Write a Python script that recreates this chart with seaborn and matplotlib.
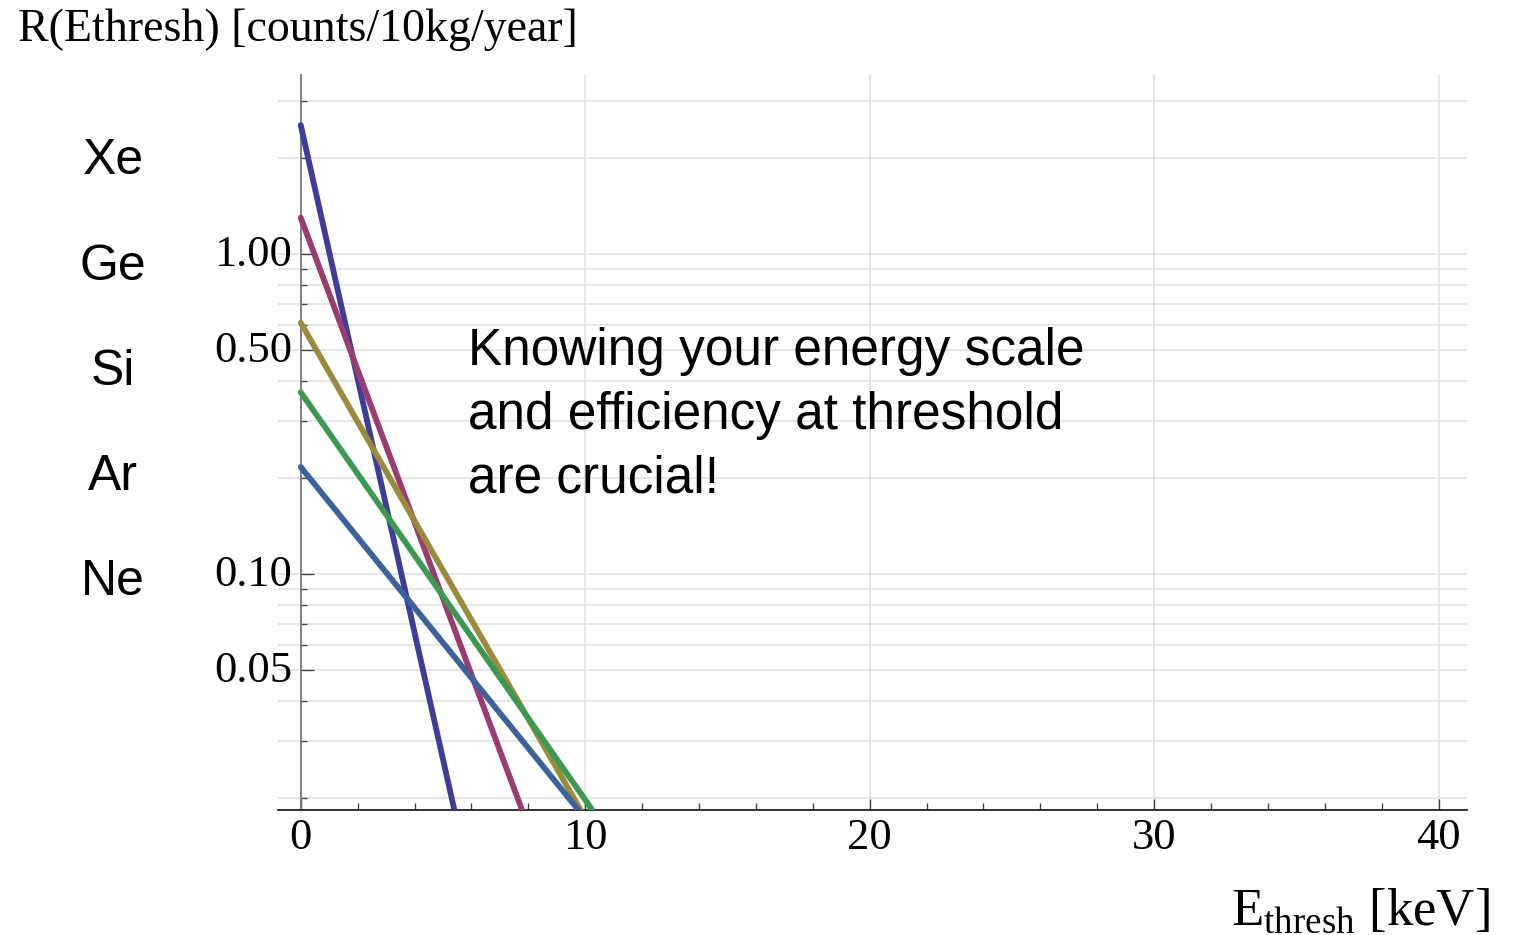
import numpy as np
import pandas as pd
import matplotlib
matplotlib.use("Agg")
import matplotlib.pyplot as plt
import seaborn as sns

# rate above threshold, counts/10kg/year
elements = ["Xe", "Ge", "Si", "Ar", "Ne"]
rate_at_zero = [2.53, 1.30, 0.61, 0.37, 0.216]
# threshold (keV) where each curve reaches the bottom of the frame
e_at_floor = [5.40, 7.78, 9.84, 10.25, 9.76]
rate_floor = 0.0183
colors = ["#3F3D99", "#993D71", "#998A3D", "#3D9951", "#3D6299"]

x_ticks = [0, 10, 20, 30, 40]
x_minor = [2, 4, 6, 8, 12, 14, 16, 18, 22, 24, 26, 28, 32, 34, 36, 38]
y_ticks = [0.05, 0.1, 0.5, 1.0]
y_ticklabels = ["0.05", "0.10", "0.50", "1.00"]
y_minor = [0.02, 0.03, 0.04, 0.06, 0.07, 0.08, 0.09,
           0.2, 0.3, 0.4, 0.6, 0.7, 0.8, 0.9, 2, 3]

note_lines = ["Knowing your energy scale",
              "and efficiency at threshold",
              "are crucial!"]

rows = []
for el, r0, e1 in zip(elements, rate_at_zero, e_at_floor):
    rows.append({"element": el, "E": 0.0, "R": r0})
    rows.append({"element": el, "E": e1, "R": rate_floor})
df = pd.DataFrame(rows)

sns.set_style("white")
plt.rcParams["font.family"] = ["Liberation Serif", "DejaVu Serif"]
plt.rcParams["mathtext.fontset"] = "custom"
plt.rcParams["mathtext.rm"] = "Liberation Serif"
plt.rcParams["text.color"] = "black"
plt.rcParams["xtick.color"] = "black"
plt.rcParams["ytick.color"] = "black"

W, H = 1513, 935
fig = plt.figure(figsize=(W / 100, H / 100), dpi=100)
ax = fig.add_axes([278 / W, 1 - 810 / H, (1467 - 278) / W, (810 - 75) / H])

ax.set_yscale("log")
sns.lineplot(data=df, x="E", y="R", hue="element", hue_order=elements,
             palette=colors, estimator=None, sort=False, lw=4.2,
             legend=False, ax=ax, zorder=3)

ax.set_xlim(-0.8, 41.0)
ax.set_ylim(rate_floor, 3.63)

ax.set_xticks(x_ticks)
ax.set_xticks(x_minor, minor=True)
ax.set_yticks(y_ticks)
ax.set_yticklabels(y_ticklabels)
ax.set_yticks(y_minor, minor=True)
ax.yaxis.set_minor_formatter(matplotlib.ticker.NullFormatter())

ax.grid(True, which="both", axis="y", color="#e2e2e2", lw=1.2)
ax.grid(True, which="major", axis="x", color="#e2e2e2", lw=1.2)
ax.set_axisbelow(True)

for s in ["top", "right"]:
    ax.spines[s].set_visible(False)
ax.spines["left"].set_position(("data", 0))
ax.spines["left"].set_color("#777777")
ax.spines["left"].set_linewidth(1.3)
ax.spines["bottom"].set_color("#222222")
ax.spines["bottom"].set_linewidth(1.3)

ax.tick_params(axis="both", which="both", direction="in", color="#444444",
               labelcolor="black", width=1.0, labelsize=32,
               bottom=True, left=True)
ax.tick_params(axis="y", which="major", length=9, pad=6)
ax.tick_params(axis="y", which="minor", length=4.5)
ax.tick_params(axis="x", which="major", length=8, pad=6)
ax.tick_params(axis="x", which="minor", length=5)
ax.set_xlabel("")
ax.set_ylabel("")

# nudge y tick labels up slightly, as in the original
shift = matplotlib.transforms.ScaledTranslation(0, 4 / 100, fig.dpi_scale_trans)
for lab in ax.get_yticklabels():
    lab.set_transform(lab.get_transform() + shift)

sans = ["Liberation Sans", "DejaVu Sans"]
label_y = [161, 267, 372, 477, 582]
for el, yy in zip(elements, label_y):
    fig.text(113 / W, 1 - yy / H, el, ha="center", va="center",
             fontsize=36, family=sans)

note_base = [365, 429, 493]
for line, yy in zip(note_lines, note_base):
    fig.text(468 / W, 1 - yy / H, line, ha="left", va="baseline",
             fontsize=37, family=sans)

fig.text(18 / W, 1 - 41 / H, "R(Ethresh) [counts/10kg/year]", ha="left",
         va="baseline", fontsize=33)
fig.text(1490 / W, 1 - 925 / H, r"$\mathrm{E}_{\mathrm{thresh}}$ [keV]",
         ha="right", va="baseline", fontsize=38)

fig.savefig("out.png", dpi=100)
